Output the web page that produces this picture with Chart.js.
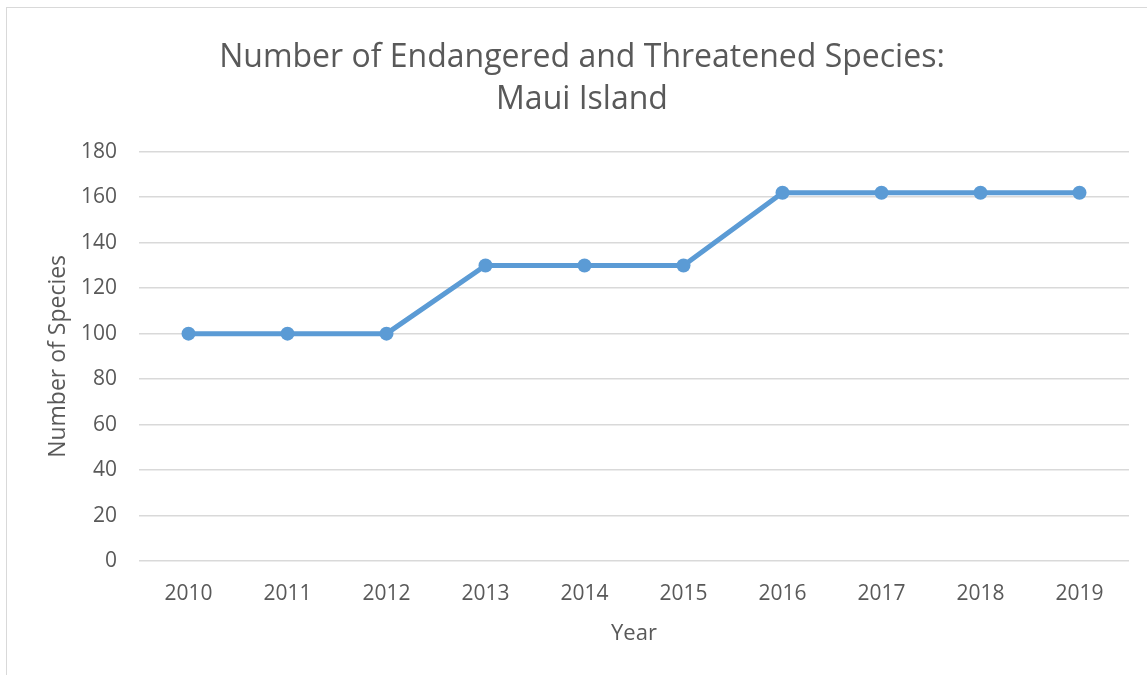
<!DOCTYPE html>
<html>
<head>
<meta charset="utf-8">
<title>Endangered and Threatened Species: Maui Island</title>
<script src="https://cdn.jsdelivr.net/npm/chart.js@4.4.1/dist/chart.umd.min.js"></script>
<style>
  html, body { margin: 0; padding: 0; background: #fff; overflow: hidden; }
  #wrap { position: relative; width: 1147px; height: 675px; }
  #frame {
    position: absolute; left: 6px; top: 7px; width: 1200px; height: 700px;
    border: 1px solid #d9d9d9; box-sizing: border-box;
  }
  #chart { position: absolute; left: 0; top: 0; }
</style>
</head>
<body>
<div id="wrap">
  <div id="frame"></div>
  <canvas id="chart" width="1147" height="675"></canvas>
</div>
<script>
// ── Data ──────────────────────────────────────────────────────────────
const years   = ['2010', '2011', '2012', '2013', '2014', '2015', '2016', '2017', '2018', '2019'];
const species = [100, 100, 100, 130, 130, 130, 162, 162, 162, 162];
const titleLines = ['Number of Endangered and Threatened Species:', 'Maui Island'];

const FONT  = "'Open Sans', 'DejaVu Sans', sans-serif";
const TEXT  = '#595959';
const GRID  = '#d9d9d9';
const LINE  = '#5b9bd5';

new Chart(document.getElementById('chart').getContext('2d'), {
  type: 'line',
  data: {
    labels: years,
    datasets: [{
      label: 'Number of Species',
      data: species,
      borderColor: LINE,
      backgroundColor: LINE,
      borderWidth: 5,
      tension: 0,
      pointRadius: 7,
      pointBorderWidth: 0,
      pointBackgroundColor: LINE,
    }],
  },
  options: {
    responsive: false,
    animation: false,
    // left padding pushes the title centre right; y axis width makes up for it
    layout: { padding: { left: 17, right: 0, top: 0, bottom: 0 } },
    plugins: {
      legend: { display: false },
      tooltip: { enabled: false },
      title: {
        display: true,
        text: titleLines,
        color: TEXT,
        font: { family: FONT, size: 32, weight: 'normal', lineHeight: 1.34 },
        padding: { top: 36, bottom: 30 },
      },
    },
    scales: {
      x: {
        offset: true,
        grid: { display: false },
        border: { display: false },
        ticks: { color: TEXT, font: { family: FONT, size: 21 }, padding: 12, maxRotation: 0 },
        title: {
          display: true, text: 'Year', color: TEXT,
          font: { family: FONT, size: 22 }, padding: { top: 0, bottom: 28 },
        },
        afterFit: s => { s.height = 114; },
      },
      y: {
        min: 0, max: 180,
        grid: { color: GRID, lineWidth: 1.5, drawTicks: false },
        border: { display: false },
        ticks: { stepSize: 20, color: TEXT, font: { family: FONT, size: 21 }, padding: 22 },
        title: {
          display: true, text: 'Number of Species', color: TEXT,
          font: { family: FONT, size: 23 }, padding: { top: 28, bottom: 0 },
        },
        afterFit: s => { s.width = 122; },
      },
      // empty strip on the right edge of the plot
      yRight: {
        position: 'right',
        min: 0, max: 180,
        grid: { display: false },
        border: { display: false },
        ticks: { display: false },
        afterFit: s => { s.width = 18; },
      },
    },
  },
});
</script>
</body>
</html>
